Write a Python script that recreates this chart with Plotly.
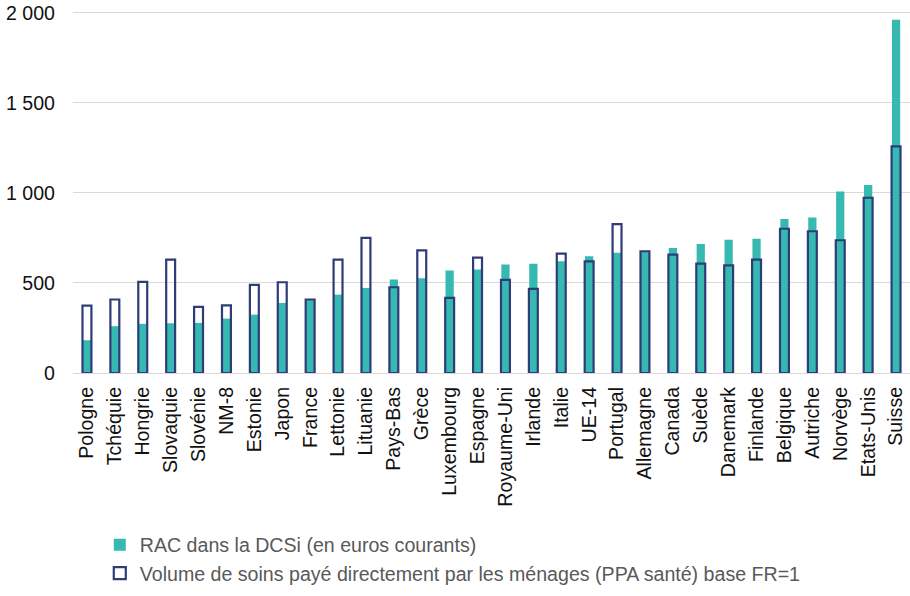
import plotly.graph_objects as go

categories = ["Pologne", "Tchéquie", "Hongrie", "Slovaquie", "Slovénie", "NM-8", "Estonie",
              "Japon", "France", "Lettonie", "Lituanie", "Pays-Bas", "Grèce", "Luxembourg",
              "Espagne", "Royaume-Uni", "Irlande", "Italie", "UE-14", "Portugal", "Allemagne",
              "Canada", "Suède", "Danemark", "Finlande", "Belgique", "Autriche", "Norvège",
              "Etats-Unis", "Suisse"]

rac_dcsi = [182, 260, 273, 276, 278, 302, 324, 389, 405, 435, 472, 519, 526, 569,
            574, 602, 607, 620, 648, 667, 674, 694, 716, 740, 746, 855, 864, 1008,
            1044, 1962]

volume_ppa = [374, 408, 506, 630, 367, 376, 489, 504, 408, 630, 750, 476, 681, 417,
              641, 517, 467, 663, 620, 827, 676, 657, 607, 598, 630, 801, 787, 737,
              973, 1258]

y_ticks = [0, 500, 1000, 1500, 2000]

name_rac = "RAC dans la DCSi (en euros courants)"
name_vol = "Volume de soins payé directement par les ménages (PPA santé) base FR=1"

teal = "#35B9B1"
navy = "#2E3C78"
font_family = "Liberation Sans, Arial, sans-serif"

fig = go.Figure()
fig.add_trace(go.Bar(
    x=categories, y=rac_dcsi, name=name_rac,
    width=0.295,
    marker=dict(color=teal, line=dict(width=0)),
))
fig.add_trace(go.Bar(
    x=categories, y=volume_ppa, name=name_vol,
    width=0.32,
    marker=dict(color="rgba(0,0,0,0)", line=dict(color=navy, width=2.2)),
))

fig.update_layout(
    width=910, height=596,
    barmode="overlay",
    separators=", ",
    paper_bgcolor="white", plot_bgcolor="white",
    margin=dict(l=73, r=0, t=11.2, b=222.5, autoexpand=False),
    font=dict(family=font_family, color="#111111"),
    showlegend=True,
    legend=dict(
        orientation="v",
        x=0.032, xanchor="left",
        y=-0.421, yanchor="top",
        font=dict(size=19.6, color="#595959", family=font_family),
        itemwidth=30,
        bgcolor="rgba(0,0,0,0)",
    ),
    xaxis=dict(
        type="category",
        tickangle=-90,
        tickfont=dict(size=19.6, color="#111111"),
        showgrid=False, showline=False, ticks="",
        range=[-0.5, len(categories) - 0.5],
        automargin=False,
        ticklabelstandoff=9,
    ),
    yaxis=dict(
        range=[0, 2010],
        tickvals=y_ticks,
        tickformat=",",
        tickfont=dict(size=19.6, color="#111111"),
        showgrid=True, gridcolor="#D9D9D9", gridwidth=1.3,
        zeroline=True, zerolinecolor="#D9D9D9", zerolinewidth=1.3,
        showline=False, ticks="",
        automargin=False,
        ticklabelstandoff=17,
    ),
)

# remove the default 8px body margin so the 910x596 figure fills the window
fig.write_html("out.html", config={"displayModeBar": False},
               post_script="document.body.style.margin='0';")
